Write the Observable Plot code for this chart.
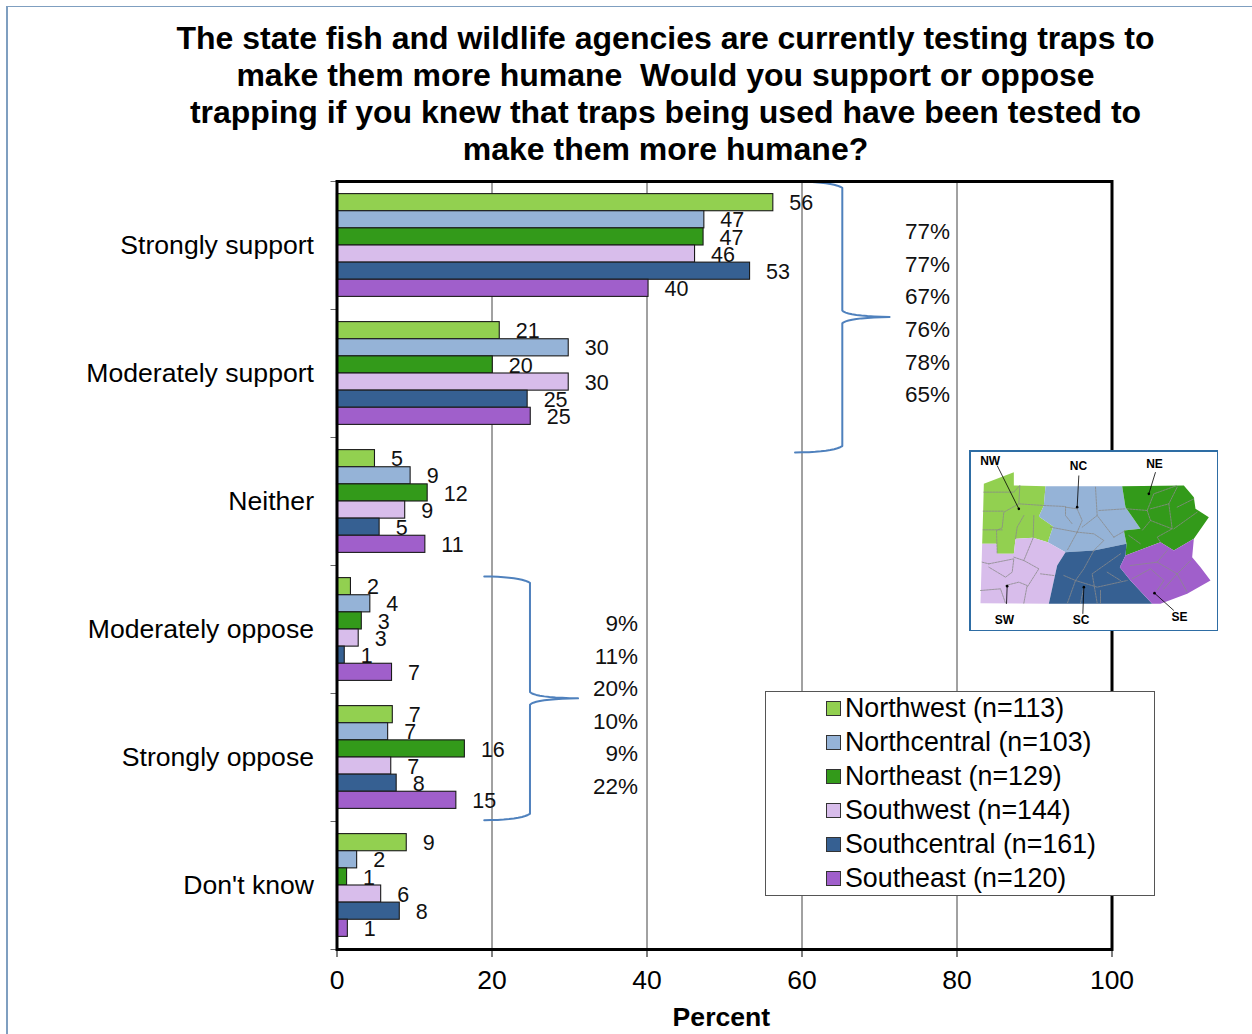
<!DOCTYPE html>
<html><head><meta charset="utf-8">
<script src="https://cdn.jsdelivr.net/npm/d3@7"></script>
<script src="https://cdn.jsdelivr.net/npm/@observablehq/plot@0.6"></script>
<style>
html,body{margin:0;padding:0;background:#fff;}
#page{position:relative;width:1252px;height:1034px;overflow:hidden;font-family:"Liberation Sans",Arial,sans-serif;color:#000;}
#edgeL{position:absolute;left:6px;top:6px;bottom:0;width:2px;background:#7f9fc0;}
#edgeT{position:absolute;left:6px;top:6px;right:0;height:1px;background:#7f9fc0;}
#title{position:relative;box-sizing:border-box;height:170px;margin-left:78px;width:1175px;text-align:center;font-size:32px;font-weight:bold;line-height:37px;padding-top:20px;white-space:pre;}
#chart svg{display:block;}
#legend{position:absolute;left:765px;top:691px;width:388px;height:203px;background:#fff;border:1px solid #555;}
.row{position:absolute;left:60px;height:34px;display:flex;align-items:center;font-size:26.8px;white-space:nowrap;}
.sw{width:13px;height:13px;border:1px solid #333;margin-right:4px;flex:none;}
#map{position:absolute;left:969px;top:450px;}
#map svg{display:block;}
</style></head>
<body><div id="page">
<div id="edgeL"></div><div id="edgeT"></div>
<div id="title"></div>
<div id="chart"></div>
<div id="map"></div>
<div id="legend"></div>
</div>
<script>
const titleLines = [
  "The state fish and wildlife agencies are currently testing traps to",
  "make them more humane  Would you support or oppose",
  "trapping if you knew that traps being used have been tested to",
  "make them more humane?"
];
const categories = ["Strongly support","Moderately support","Neither","Moderately oppose","Strongly oppose","Don't know"];
const regions = ["Northwest","Northcentral","Northeast","Southwest","Southcentral","Southeast"];
const sampleSizes = [113,103,129,144,161,120];
const colors = ["#92d050","#95b3d7","#339a1a","#d8bdeb","#366092","#a05fcb"];

const barNorthwest    = [56.3,21.0,4.9,1.8,7.2,9.0];
const barNorthcentral = [47.4,29.9,9.5,4.3,6.6,2.6];
const barNortheast    = [47.3,20.1,11.7,3.2,16.5,1.3];
const barSouthwest    = [46.2,29.9,8.8,2.8,7.0,5.7];
const barSouthcentral = [53.3,24.6,5.5,1.0,7.7,8.1];
const barSoutheast    = [40.2,25.0,11.4,7.1,15.4,1.4];
const lblNorthwest    = [56,21,5,2,7,9];
const lblNorthcentral = [47,30,9,4,7,2];
const lblNortheast    = [47,20,12,3,16,1];
const lblSouthwest    = [46,30,9,3,7,6];
const lblSouthcentral = [53,25,5,1,8,8];
const lblSoutheast    = [40,25,11,7,15,1];
const supportTotals = ["77%","77%","67%","76%","78%","65%"];
const opposeTotals  = ["9%","11%","20%","10%","9%","22%"];

// Map of the state's six regions, in the inset's own units
const mapNW = [[70,130],[160,95],[160,135],[255,137],[250,195],[235,228],[278,258],[262,305],[218,292],[165,295],[160,340],[110,340],[108,310],[65,310],[68,210]];
const mapNC = [[255,137],[485,137],[495,200],[540,265],[490,270],[498,310],[400,330],[315,335],[262,305],[278,258],[235,228],[250,195]];
const mapNE = [[485,137],[670,135],[700,170],[705,205],[745,230],[700,295],[640,330],[600,305],[560,320],[495,345],[498,310],[490,270],[540,265],[495,200]];
const mapSW = [[65,310],[108,310],[110,340],[160,340],[165,295],[218,292],[262,305],[315,335],[290,375],[265,490],[60,488]];
const mapSC = [[315,335],[400,330],[498,310],[495,345],[478,380],[510,420],[575,490],[265,490],[290,375]];
const mapSE = [[560,320],[600,305],[640,330],[700,295],[695,350],[720,380],[750,420],[680,460],[600,490],[575,490],[510,420],[478,380],[495,345]];
const mapCounties = [
  [[70,155],[160,155],[178,135]],[[178,135],[175,190],[130,215],[125,262],[108,270],[110,340]],[[68,212],[130,212]],[[68,268],[125,268]],[[175,190],[250,195]],[[190,225],[170,260],[165,295]],[[220,225],[218,290]],
  [[315,200],[350,205],[365,240],[350,275],[270,260]],[[405,140],[410,225],[460,290]],[[415,210],[495,205]],[[250,195],[315,198],[315,225],[335,250]],[[350,275],[320,330]],[[350,275],[400,280],[430,300],[400,330]],[[410,225],[365,260]],[[460,290],[495,270]],
  [[500,205],[560,210],[580,160],[650,135]],[[560,210],[570,240],[545,270]],[[570,205],[625,190],[650,140]],[[625,190],[635,265],[590,290],[600,305]],[[650,200],[700,175]],[[640,265],[710,215]],[[505,285],[540,310]],[[570,240],[635,265]],
  [[218,292],[190,360],[160,350]],[[85,370],[160,355],[155,395],[135,410],[85,380]],[[65,365],[85,370]],[[190,360],[235,385],[200,440]],[[135,435],[175,425],[200,435],[190,488]],[[60,450],[120,445],[135,488]],[[280,405],[240,400]],
  [[400,330],[370,385],[345,420],[320,490]],[[480,340],[395,400],[410,488]],[[310,405],[345,420],[410,440],[500,420]],[[370,440],[360,488]],[[440,395],[480,420]],[[420,450],[420,488]],
  [[510,375],[590,365],[620,330]],[[515,415],[570,385],[610,420],[590,450]],[[590,365],[650,400],[610,445]],[[650,400],[690,360]],[[650,400],[680,455]]
];
const mapLabels = ["NW","NC","NE","SW","SC","SE"];
const mapLabelX = [89,354,582,132,362,657];
const mapLabelY = [62,78,70,538,538,530];
const mapLeaderX1 = [110,355,585,138,367,640];
const mapLeaderY1 = [75,105,95,490,520,510];
const mapLeaderX2 = [175,350,565,140,370,582];
const mapLeaderY2 = [205,200,160,437,440,458];

document.getElementById("title").textContent = titleLines.join("\n");

const barValues = [barNorthwest,barNorthcentral,barNortheast,barSouthwest,barSouthcentral,barSoutheast];
const lblValues = [lblNorthwest,lblNorthcentral,lblNortheast,lblSouthwest,lblSouthcentral,lblSoutheast];
const BAR = 17.13/128, PAD = (1 - 6*BAR)/2;
const bars = [];
categories.forEach((c,ci)=>regions.forEach((r,ri)=>bars.push({
  category:c, region:r, value:barValues[ri][ci], label:lblValues[ri][ci],
  y1:ci+PAD+ri*BAR, y2:ci+PAD+(ri+1)*BAR, yc:ci+PAD+(ri+.5)*BAR
})));

// curly brace in chart units (percent, category position)
function brace(x0,xv,xt,y0,y1){
  const ym=(y0+y1)/2, e=.05, q=(a,b,c,n=10)=>d3.range(n+1).map(i=>{const t=i/n,u=1-t;
    return {x:u*u*a[0]+2*u*t*b[0]+t*t*c[0], y:u*u*a[1]+2*u*t*b[1]+t*t*c[1]};});
  return [
    ...q([x0,y0],[xv-1.2,y0+.002],[xv,y0+e]),
    ...q([xv,ym-e],[xv+.6,ym-.006],[xt,ym]),
    ...q([xt,ym],[xv+.6,ym+.006],[xv,ym+e]),
    ...q([xv,y1-e],[xv-1.2,y1-.002],[x0,y1])
  ];
}
const braceTop = brace(59.1,65.2,71.3,0,2.117);
const braceBottom = brace(19,24.9,31.1,3.086,4.99);
const supportRows = [.395,.652,.90,1.158,1.415,1.665];
const opposeRows = [3.452,3.712,3.962,4.219,4.469,4.726];
const halves = categories.map((_,i)=>i+.5);

const chart = Plot.plot({
  width:1252, height:864, marginLeft:336.5, marginRight:140.5, marginTop:11, marginBottom:85,
  style:{fontFamily:"'Liberation Sans',Arial,sans-serif",color:"#000",background:"#fff",overflow:"visible"},
  x:{domain:[0,100]}, y:{domain:[6,0]},
  color:{domain:regions,range:colors},
  marks:[
    Plot.ruleX([20,40,60,80],{stroke:"#444",strokeWidth:1}),
    Plot.rect(bars,{x1:()=>0,x2:"value",y1:"y1",y2:"y2",fill:"region",stroke:"#1a1a1a",strokeWidth:1.1}),
    Plot.line(braceTop,{x:"x",y:"y",stroke:"#4f81bd",strokeWidth:2}),
    Plot.line(braceBottom,{x:"x",y:"y",stroke:"#4f81bd",strokeWidth:2}),
    Plot.text(bars,{x:"value",y:"yc",text:"label",dx:16,dy:.7,textAnchor:"start",fontSize:21.5,fill:"#111"}),
    Plot.text(supportTotals,{x:()=>76.2,y:(d,i)=>supportRows[i],text:d=>d,fontSize:22.5,fill:"#111"}),
    Plot.text(opposeTotals,{x:()=>38.84,y:(d,i)=>opposeRows[i],text:d=>d,textAnchor:"end",fontSize:22.5,fill:"#111"}),
    Plot.axisY({ticks:halves,tickSize:0,tickPadding:23,dy:-.5,tickFormat:v=>categories[v-.5],fontSize:26.6,label:null}),
    Plot.axisY({ticks:d3.range(7),tickSize:6,tickFormat:()=>"",stroke:"#666",label:null}),
    Plot.axisX({ticks:[0,20,40,60,80,100],tickSize:8,tickPadding:13,fontSize:26.5,label:null}),
    Plot.text(["Percent"],{x:()=>49.6,y:()=>6,dy:68,text:d=>d,fontSize:26.6,fontWeight:"bold"}),
    Plot.frame({stroke:"#000",strokeWidth:3})
  ]
});
document.getElementById("chart").append(chart);

// legend
const legend = document.getElementById("legend");
regions.forEach((r,i)=>{
  const row=document.createElement("div");row.className="row";row.style.top=(i*34-1)+"px";
  const sw=document.createElement("span");sw.className="sw";sw.style.background=colors[i];
  const t=document.createElement("span");t.textContent=`${r} (n=${sampleSizes[i]})`;
  row.append(sw,t);legend.append(row);
});

// inset map
const shapes=[mapNW,mapNC,mapNE,mapSW,mapSC,mapSE].flatMap((pts,i)=>pts.map(p=>({x:p[0],y:p[1],region:regions[i]})));
const counties=mapCounties.flatMap((pts,i)=>pts.map(p=>({x:p[0],y:p[1],id:i})));
const leaders=mapLabels.map((l,i)=>({l,tx:mapLabelX[i],ty:mapLabelY[i],x1:mapLeaderX1[i],y1:mapLeaderY1[i],x2:mapLeaderX2[i],y2:mapLeaderY2[i]}));
const inset = Plot.plot({
  width:249,height:181,margin:0,
  style:{fontFamily:"'Liberation Sans',Arial,sans-serif",background:"#fff"},
  x:{domain:[27,774],axis:null}, y:{domain:[573,30],axis:null},
  color:{domain:regions,range:colors},
  marks:[
    Plot.line(shapes,{x:"x",y:"y",z:"region",fill:"region",stroke:"none",curve:"linear-closed"}),
    Plot.line(counties,{x:"x",y:"y",z:"id",stroke:"#8a8a8a",strokeWidth:.8,strokeDasharray:"2,1"}),
    Plot.link(leaders,{x1:"x1",y1:"y1",x2:"x2",y2:"y2",stroke:"#000",strokeWidth:.8}),
    Plot.dot(leaders,{x:"x2",y:"y2",r:1.3,fill:"#000"}),
    Plot.text(leaders,{x:"tx",y:"ty",text:"l",fontSize:12,fontWeight:"bold",fill:"#000"}),
    Plot.frame({stroke:"#2e6da4",strokeWidth:3})
  ]
});
document.getElementById("map").append(inset);
</script>
</body></html>
